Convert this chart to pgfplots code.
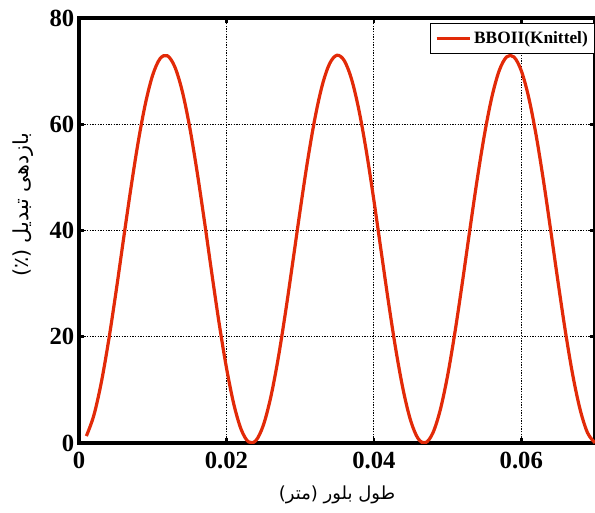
\documentclass[border=0pt]{standalone}
\usepackage{pgfplots}
\pgfplotsset{compat=1.18}
\usepackage{fontspec}
\setmainfont{Liberation Serif}
\newfontfamily\fa[Script=Arabic]{DejaVu Sans}
\TeXXeTstate=1
\definecolor{curve}{RGB}{226,42,8}
\begin{document}
\begin{tikzpicture}
\path[use as bounding box] (-59.25pt,-51.75pt) rectangle (387pt,332.25pt);
\begin{axis}[
  at={(0,0)}, anchor=south west,
  scale only axis, width=387pt, height=318.75pt,
  xmin=0, xmax=0.07, ymin=0, ymax=80,
  xtick={0,0.02,0.04,0.06}, xticklabels={0,0.02,0.04,0.06},
  scaled x ticks=false,
  ytick={0,20,40,60,80},
  /pgf/number format/assume math mode=true,
  ticklabel style={font=\fontsize{18.5}{20}\selectfont\bfseries},
  xticklabel style={yshift=-3pt},
  axis line style={line width=2.4pt, black},
  tick style={line width=2pt, black},
  major tick length=4pt,
  tick align=inside,
  grid=major,
  major grid style={black, line width=0.6pt, dash pattern=on 1pt off 1pt},
  xlabel={\fa\beginR طول بلور (متر)\endR},
  ylabel={\fa\beginR بازدهی تبدیل (٪)\endR},
  xlabel style={font=\fontsize{13.5}{15}\selectfont, at={(rel axis cs:0.5,-0.123)}, anchor=center},
  ylabel style={font=\fontsize{15.5}{17}\selectfont, at={(rel axis cs:-0.108,0.56)}, anchor=center},
  legend style={at={(rel axis cs:1,0.988)}, anchor=north east, draw=black, line width=0.8pt,
    font=\fontsize{13}{15}\selectfont\bfseries, inner xsep=3pt, inner ysep=4pt},
  legend cell align=left,
  legend image code/.code={\draw[#1, line width=2.5pt] (0pt,0pt) -- (25pt,0pt);},
]
\addplot[curve, line width=2.4pt, smooth, tension=0.55] coordinates {
(0.001,1.31) (0.002,5.14) (0.003,11.21) (0.004,19.11) (0.005,28.25) (0.006,37.99)
(0.007,47.59) (0.008,56.42) (0.009,63.82) (0.010,69.27) (0.011,72.36)
(0.012,72.88) (0.013,70.80) (0.014,66.26) (0.015,59.58) (0.016,51.24) (0.017,41.90)
(0.018,32.10) (0.019,22.63) (0.020,14.19) (0.021,7.32) (0.022,2.55) (0.023,0.21)
(0.024,0.47) (0.025,3.32) (0.026,8.54) (0.027,15.77) (0.028,24.49)
(0.029,34.05) (0.030,43.79) (0.031,53.04) (0.032,61.08) (0.033,67.35) (0.034,71.42)
(0.035,72.99) (0.036,71.94) (0.037,68.36) (0.038,62.49) (0.039,54.75) (0.040,45.72)
(0.041,36.00) (0.042,26.35) (0.043,17.41) (0.044,9.84) (0.045,4.18) (0.046,0.84)
(0.047,0.05) (0.048,1.88) (0.049,6.19) (0.050,12.66) (0.051,20.85)
(0.052,30.16) (0.053,39.93) (0.054,49.46) (0.055,58.03) (0.056,65.08) (0.057,70.08)
(0.058,72.67) (0.059,72.67) (0.060,70.08) (0.061,65.08) (0.062,58.03)
(0.063,49.46) (0.064,39.93) (0.065,30.16) (0.066,20.85) (0.067,12.66) (0.068,6.19)
(0.069,1.88) (0.070,0.05)
};
\addlegendentry{BBOII(Knittel)}
\end{axis}
\end{tikzpicture}
\end{document}
